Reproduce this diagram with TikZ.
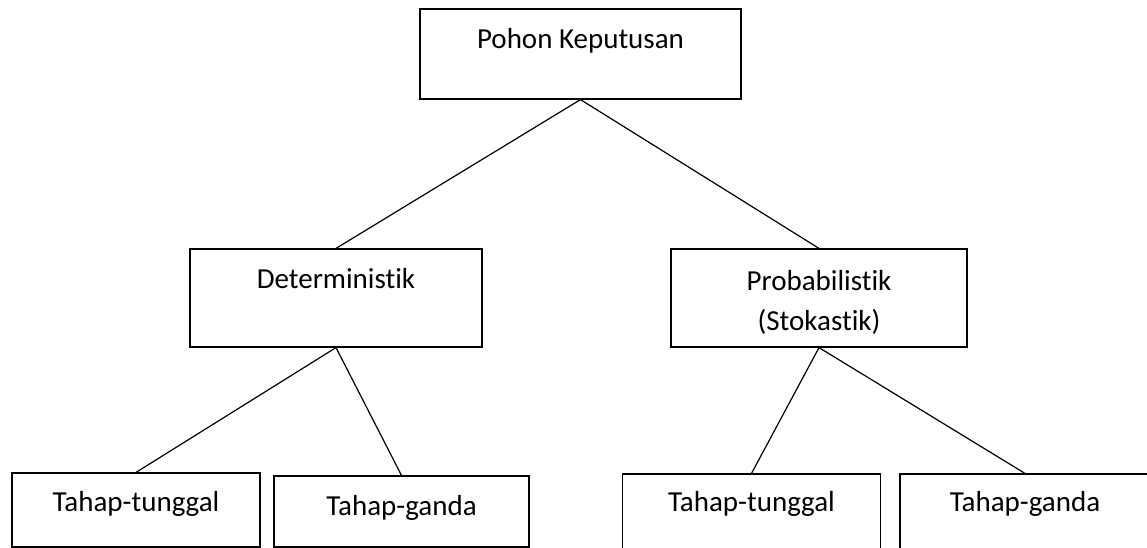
\documentclass[tikz,border=0pt]{standalone}
\usepackage{fontspec}
\setmainfont{Carlito}[Ligatures=NoCommon]
\begin{document}
\begin{tikzpicture}[x=1pt,y=-1pt,
  box/.style={draw,line width=1.2pt,inner sep=0pt},
  lbl/.style={font=\fontsize{29}{40}\selectfont,inner sep=0pt,anchor=base,align=center},
  conn/.style={line width=1.2pt}]
\useasboundingbox (0,0) rectangle (1147,548);
\clip (0,0) rectangle (1147,548);
% boxes
\node[box,minimum width=321pt,minimum height=90pt] (T) at (580.5,54) {};
\node[box,minimum width=292pt,minimum height=98pt] (D) at (336,298) {};
\node[box,minimum width=296pt,minimum height=98pt] (P) at (819,298) {};
\node[box,minimum width=248pt,minimum height=74pt] (B1) at (136,510) {};
\node[box,minimum width=255pt,minimum height=71pt] (B2) at (401.5,511.5) {};
\node[box,minimum width=258pt,minimum height=92pt] (B3) at (751.5,520) {};
\node[box,minimum width=250pt,minimum height=92pt] (B4) at (1025,520) {};
% labels
\node[lbl] (tT) at ([yshift=-40pt]T.north) {Pohon Keputusan};
\node[lbl] (tD) at ([yshift=-40pt]D.north) {Deterministik};
\node[lbl,anchor=north] (tP) at ([yshift=-22pt]P.north) {Probabilistik\\(Stokastik)};
\node[lbl] (tB1) at ([yshift=-39pt]B1.north) {Tahap-tunggal};
\node[lbl] (tB2) at ([yshift=-40pt]B2.north) {Tahap-ganda};
\node[lbl] (tB3) at ([yshift=-38pt]B3.north) {Tahap-tunggal};
\node[lbl] (tB4) at ([yshift=-38pt]B4.north) {Tahap-ganda};
% connectors
\draw[conn] (T.south) -- (D.north);
\draw[conn] (T.south) -- (P.north);
\draw[conn] (D.south) -- (B1.north);
\draw[conn] (D.south) -- (B2.north);
\draw[conn] (P.south) -- (B3.north);
\draw[conn] (P.south) -- (B4.north);
\end{tikzpicture}
\end{document}
